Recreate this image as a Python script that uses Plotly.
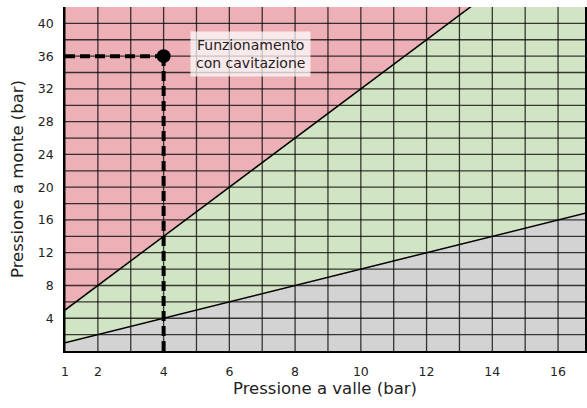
import plotly.graph_objects as go

# ---- data ----
x_pts = [1, 17]                       # x span of the boundary lines
lower_line = [1, 17]                  # y = x
upper_line = [5, 53]                  # y = 3x + 2
top_line = [42, 42]
op_x = [4]                            # operating point
op_y = [36]
x_ticks = [1, 2, 4, 6, 8, 10, 12, 14, 16]
y_ticks = [4, 8, 12, 16, 20, 24, 28, 32, 36, 40]
x_grid = list(range(1, 18))
y_grid = list(range(2, 42, 2))
annotation_text = "Funzionamento<br>con cavitazione"

FONT = "DejaVu Sans"
pink = "rgb(236,176,182)"
green = "rgb(209,228,195)"
gray = "rgb(211,211,211)"

fig = go.Figure()
fig.add_trace(go.Scatter(x=x_pts, y=lower_line, mode="lines", fill="tozeroy",
                         fillcolor=gray, line=dict(color="black", width=1.5),
                         hoverinfo="skip"))
fig.add_trace(go.Scatter(x=x_pts, y=upper_line, mode="lines", fill="tonexty",
                         fillcolor=green, line=dict(color="black", width=1.5),
                         hoverinfo="skip"))
fig.add_trace(go.Scatter(x=x_pts, y=top_line, mode="lines", fill="tonexty",
                         fillcolor=pink, line=dict(color="rgba(0,0,0,0)", width=0),
                         hoverinfo="skip"))

# grid drawn above fills
shapes = []
for gx in x_grid:
    shapes.append(dict(type="line", xref="x", yref="y domain", x0=gx, x1=gx, y0=0, y1=1,
                       line=dict(color="rgba(0,0,0,0.75)", width=1.3), layer="above"))
for gy in y_grid:
    shapes.append(dict(type="line", xref="x domain", yref="y", x0=0, x1=1, y0=gy, y1=gy,
                       line=dict(color="rgba(0,0,0,0.75)", width=1.3), layer="above"))

# dashed guide lines to operating point
fig.add_trace(go.Scatter(x=[x_pts[0], op_x[0]], y=[op_y[0], op_y[0]], mode="lines",
                         line=dict(color="black", width=4, dash="10px,5px"),
                         hoverinfo="skip"))
fig.add_trace(go.Scatter(x=[op_x[0], op_x[0]], y=[0, op_y[0]], mode="lines",
                         line=dict(color="black", width=4, dash="10px,5px"),
                         hoverinfo="skip"))
fig.add_trace(go.Scatter(x=op_x, y=op_y, mode="markers",
                         marker=dict(color="black", size=14), hoverinfo="skip"))

fig.add_annotation(x=6.65, y=36.3, xref="x", yref="y", text=annotation_text,
                   showarrow=False, xanchor="center", yanchor="middle",
                   font=dict(family=FONT, size=14, color="#222"),
                   bgcolor="rgba(255,255,255,0.72)", borderpad=5, align="center")

fig.update_layout(
    width=587, height=408,
    margin=dict(l=65, r=0, t=7, b=57),
    paper_bgcolor="white", plot_bgcolor="white",
    showlegend=False,
    shapes=shapes,
    font=dict(family=FONT, color="#222"),
    xaxis=dict(range=[1, 16.82], tickvals=x_ticks, ticktext=[str(v) for v in x_ticks],
               showgrid=False, zeroline=False, showline=True, linecolor="black",
               linewidth=1.5, mirror=False, ticks="", ticklabelstandoff=8,
               tickfont=dict(size=12.5),
               title=dict(text="Pressione a valle (bar)", font=dict(size=16.5), standoff=5)),
    yaxis=dict(range=[0, 42], tickvals=y_ticks, showgrid=False, zeroline=False,
               showline=True, linecolor="black", linewidth=1.5, mirror=True,
               ticks="", ticklabelstandoff=7, tickfont=dict(size=12.5),
               title=dict(text="Pressione a monte (bar)", font=dict(size=16.5), standoff=10)),
)
fig.write_html("out.html", config={"displayModeBar": False},
               post_script=["document.body.style.margin='0';"])
